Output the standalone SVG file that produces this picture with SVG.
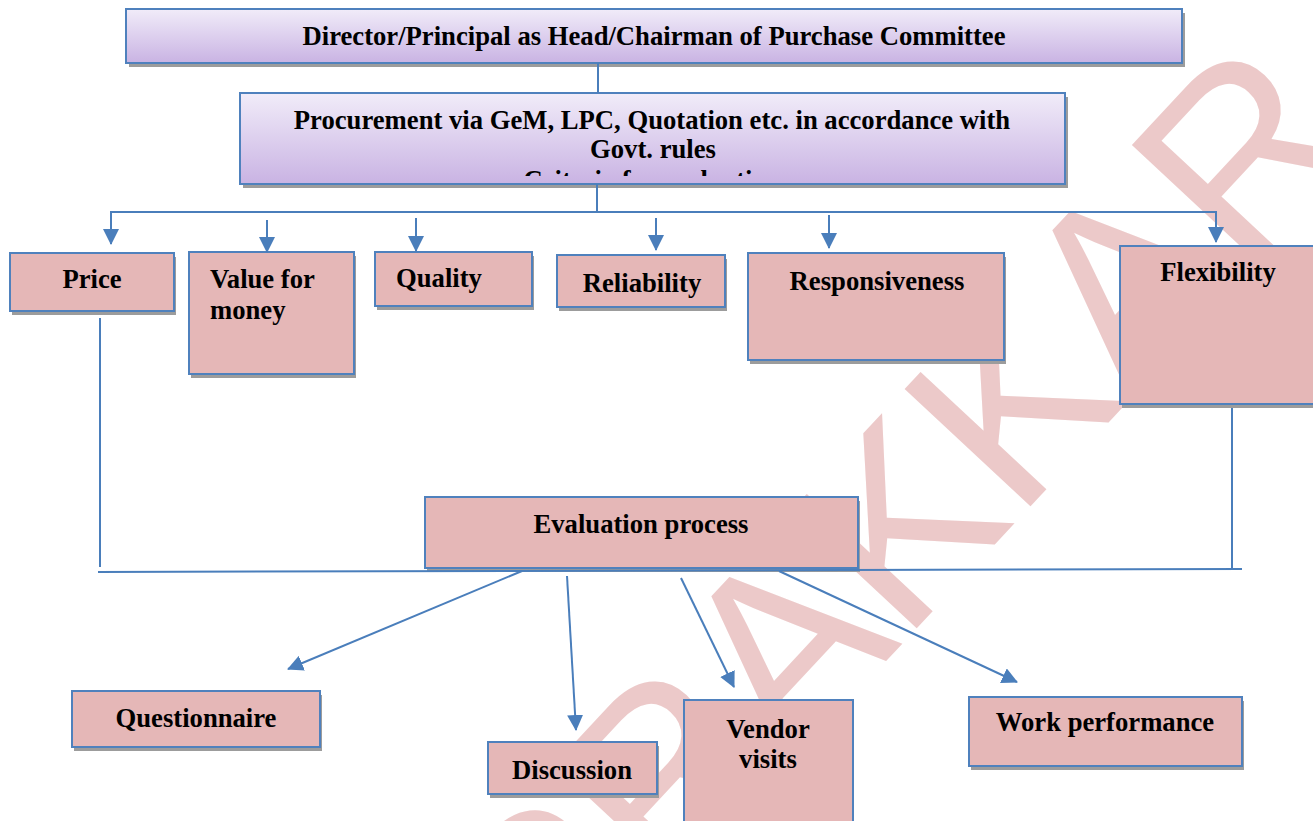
<svg xmlns="http://www.w3.org/2000/svg" width="1313" height="821" viewBox="0 0 1313 821">
<defs>
<style>
.box{fill:#e5b7b7;stroke:#4f81bd;stroke-width:2}
.pbox{fill:url(#lav);stroke:#4f81bd;stroke-width:2}
.sh{fill:#9c9c9c}
.t{font-family:"Liberation Serif","Times New Roman",serif;font-weight:bold;font-size:26.67px;fill:#000}
.ln{stroke:#4a7ebb;stroke-width:2;fill:none}
.ar{stroke:#4a7ebb;stroke-width:2;fill:none;marker-end:url(#ah)}
.wm{font-family:"Liberation Sans",Arial,sans-serif;font-size:250px;fill:#ecc9c9}
</style>
<linearGradient id="lav" x1="0" y1="0" x2="0" y2="1">
<stop offset="0" stop-color="#f1ecf9"/>
<stop offset="1" stop-color="#c9b3e3"/>
</linearGradient>
<marker id="ah" markerUnits="userSpaceOnUse" markerWidth="16" markerHeight="16" refX="15" refY="8" orient="auto">
<path d="M0,0 L16,8 L0,16 z" fill="#4a7ebb"/>
</marker>
<clipPath id="c2"><rect x="241" y="94" width="823" height="82"/></clipPath>
</defs>
<rect width="1313" height="821" fill="#fff"/>
<g id="watermark">
<text class="wm" transform="translate(666,897) rotate(-47)" x="-167" y="0">PRAKKAR</text>
</g>
<g id="n-director">
<rect class="sh" x="129" y="13" width="1056" height="54"/>
<rect class="pbox" x="126" y="9" width="1056" height="54"/>
<text class="t" x="654" y="45" text-anchor="middle">Director/Principal as Head/Chairman of Purchase Committee</text>
</g>
<g id="n-procurement">
<rect class="sh" x="243" y="97" width="825" height="91"/>
<rect class="pbox" x="240" y="93" width="825" height="91"/>
<text class="t" x="652" y="129" text-anchor="middle">Procurement via GeM, LPC, Quotation etc. in accordance with</text>
<text class="t" x="653" y="158" text-anchor="middle">Govt. rules</text>
<text class="t" x="652" y="189" text-anchor="middle" clip-path="url(#c2)">Criteria for evaluation</text>
</g>
<g id="n-price">
<rect class="sh" x="12" y="257" width="164" height="58"/>
<rect class="box" x="10" y="253" width="164" height="58"/>
<text class="t" x="92" y="288" text-anchor="middle">Price</text>
</g>
<g id="n-value">
<rect class="sh" x="191" y="256" width="165" height="122"/>
<rect class="box" x="189" y="252" width="165" height="122"/>
<text class="t" x="210" y="288">Value for</text>
<text class="t" x="210" y="319">money</text>
</g>
<g id="n-quality">
<rect class="sh" x="377" y="256" width="157" height="54"/>
<rect class="box" x="375" y="252" width="157" height="54"/>
<text class="t" x="396" y="287">Quality</text>
</g>
<g id="n-reliability">
<rect class="sh" x="559" y="259" width="168" height="52"/>
<rect class="box" x="557" y="255" width="168" height="52"/>
<text class="t" x="642" y="292" text-anchor="middle">Reliability</text>
</g>
<g id="n-responsiveness">
<rect class="sh" x="750" y="257" width="256" height="107"/>
<rect class="box" x="748" y="253" width="256" height="107"/>
<text class="t" x="877" y="290" text-anchor="middle">Responsiveness</text>
</g>
<g id="n-flexibility">
<rect class="sh" x="1122" y="250" width="200" height="158"/>
<rect class="box" x="1120" y="246" width="200" height="158"/>
<text class="t" x="1218" y="281" text-anchor="middle">Flexibility</text>
</g>
<g id="n-evaluation">
<rect class="sh" x="427" y="501" width="433" height="71"/>
<rect class="box" x="425" y="497" width="433" height="71"/>
<text class="t" x="641" y="533" text-anchor="middle">Evaluation process</text>
</g>
<g id="n-questionnaire">
<rect class="sh" x="74" y="695" width="248" height="56"/>
<rect class="box" x="72" y="691" width="248" height="56"/>
<text class="t" x="196" y="727" text-anchor="middle">Questionnaire</text>
</g>
<g id="n-discussion">
<rect class="sh" x="490" y="746" width="169" height="52"/>
<rect class="box" x="488" y="742" width="169" height="52"/>
<text class="t" x="572" y="779" text-anchor="middle">Discussion</text>
</g>
<g id="n-vendor">
<rect class="box" x="684" y="700" width="169" height="140"/>
<text class="t" x="768" y="738" text-anchor="middle">Vendor</text>
<text class="t" x="768" y="768" text-anchor="middle">visits</text>
</g>
<g id="n-work">
<rect class="sh" x="971" y="701" width="273" height="69"/>
<rect class="box" x="969" y="697" width="273" height="69"/>
<text class="t" x="1105" y="731" text-anchor="middle">Work performance</text>
</g>
<g id="connectors">
<path class="ln" d="M598,63 V93"/>
<path class="ln" d="M597,184 V212"/>
<path class="ln" d="M110,212 H1217"/>
<path class="ar" d="M111,212 V244"/>
<path class="ar" d="M267,220 V252"/>
<path class="ar" d="M416,218 V251"/>
<path class="ar" d="M656,218 V250"/>
<path class="ar" d="M829,215 V248"/>
<path class="ar" d="M1216,212 V242"/>
<path class="ln" d="M100,318 V567"/>
<path class="ln" d="M1232,408 V568"/>
<path class="ln" d="M98,572 L1242,569"/>
<path class="ar" d="M522,571 L288,669"/>
<path class="ar" d="M567,576 L576,730"/>
<path class="ar" d="M681,578 L734,687"/>
<path class="ar" d="M779,571 L1017,682"/>
</g>
</svg>
